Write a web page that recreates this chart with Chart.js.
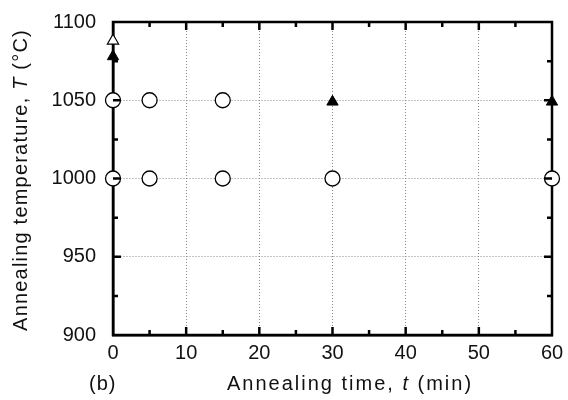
<!DOCTYPE html>
<html>
<head>
<meta charset="utf-8">
<script src="https://cdn.jsdelivr.net/npm/chart.js@4/dist/chart.umd.min.js"></script>
<style>
  body { margin: 0; background: #fff; }
  #wrap { width: 568px; height: 400px; }
</style>
</head>
<body>
<div id="wrap"><canvas id="chart"></canvas></div>
<script>
// data
var circleTimes = [0, 5, 15, 0, 5, 15, 30, 60];
var circleTemps = [1050, 1050, 1050, 1000, 1000, 1000, 1000, 1000];
var filledTriTimes = [0, 30, 60];
var filledTriTemps = [1078, 1049, 1049];
var openTriTimes = [0];
var openTriTemps = [1088];
var xTicks = [0, 10, 20, 30, 40, 50, 60];
var yTicks = [900, 950, 1000, 1050, 1100];

function pts(xs, ys) {
	return xs.map(function (x, i) { return { x: x, y: ys[i] }; });
}

var FONT = '"Liberation Sans", Arial, sans-serif';

// inward tick marks on all four sides
var innerTicks = {
	id: 'innerTicks',
	afterDatasetsDraw: function (chart) {
		var ctx = chart.ctx, a = chart.chartArea;
		var xs = chart.scales.x, ys = chart.scales.y;
		ctx.save();
		ctx.strokeStyle = '#000';
		ctx.lineWidth = 2.5;
		for (var t = 5; t < 60; t += 5) {
			var px = xs.getPixelForValue(t);
			var len = (t % 10 === 0) ? 8 : 5;
			ctx.beginPath();
			ctx.moveTo(px, a.bottom); ctx.lineTo(px, a.bottom - len);
			ctx.moveTo(px, a.top); ctx.lineTo(px, a.top + len);
			ctx.stroke();
		}
		for (var v = 925; v < 1100; v += 25) {
			var py = ys.getPixelForValue(v);
			var l2 = (v % 50 === 0) ? 8 : 5;
			ctx.beginPath();
			ctx.moveTo(a.left, py); ctx.lineTo(a.left + l2, py);
			ctx.moveTo(a.right, py); ctx.lineTo(a.right - l2, py);
			ctx.stroke();
		}
		ctx.restore();
	}
};

// axis titles with italic symbols
var axisTitles = {
	id: 'axisTitles',
	afterDraw: function (chart) {
		var ctx = chart.ctx;
		function drawParts(parts, cx, cy, sp) {
			ctx.letterSpacing = sp;
			var w = 0;
			parts.forEach(function (p) {
				ctx.font = (p[1] ? 'italic ' : '') + '20px ' + FONT;
				w += ctx.measureText(p[0]).width;
			});
			var x = cx - w / 2;
			parts.forEach(function (p) {
				ctx.font = (p[1] ? 'italic ' : '') + '20px ' + FONT;
				ctx.fillText(p[0], x, cy);
				x += ctx.measureText(p[0]).width;
			});
		}
		ctx.save();
		ctx.fillStyle = '#111';
		ctx.textBaseline = 'middle';
		ctx.textAlign = 'left';
		drawParts([['Annealing time, ', false], ['t', true], [' (min)', false]], 350, 384, '2px');
		ctx.letterSpacing = '1px';
		ctx.font = '20px ' + FONT;
		ctx.fillText('(b)', 89, 384);
		ctx.translate(21, 180);
		ctx.rotate(-Math.PI / 2);
		drawParts([['Annealing temperature, ', false], ['T', true], [' (\u00B0C)', false]], 0, 0, '1.2px');
		ctx.restore();
	}
};

new Chart(document.getElementById('chart'), {
	type: 'scatter',
	data: {
		datasets: [
			{
				label: 'open circles',
				data: pts(circleTimes, circleTemps),
				pointStyle: 'circle',
				pointRadius: 7.5,
				backgroundColor: '#fff',
				borderColor: '#000',
				borderWidth: 1.3,
				clip: false
			},
			{
				label: 'filled triangles',
				data: pts(filledTriTimes, filledTriTemps),
				pointStyle: 'triangle',
				pointRadius: 6.5,
				backgroundColor: '#000',
				borderColor: '#000',
				borderWidth: 1,
				clip: false
			},
			{
				label: 'open triangles',
				data: pts(openTriTimes, openTriTemps),
				pointStyle: 'triangle',
				pointRadius: 6.5,
				backgroundColor: '#fff',
				borderColor: '#000',
				borderWidth: 1.2,
				clip: false
			}
		]
	},
	options: {
		responsive: true,
		maintainAspectRatio: false,
		animation: false,
		layout: { padding: { top: 22, right: 16, left: 0, bottom: 0 } },
		plugins: { legend: { display: false }, tooltip: { enabled: false } },
		scales: {
			x: {
				type: 'linear',
				min: 0, max: 60,
				afterBuildTicks: function (s) { s.ticks = xTicks.map(function (v) { return { value: v }; }); },
				afterFit: function (s) { s.height = 65; s.paddingLeft = 0; s.paddingRight = 0; },
				grid: { color: '#888', lineWidth: 1, drawTicks: false, tickLength: 0 },
				border: { display: true, color: '#000', width: 2.5, dash: [1, 2] },
				ticks: {
					padding: 6,
					color: '#111',
					font: { family: FONT, size: 20 },
					callback: function (v) { return String(v); }
				}
			},
			y: {
				type: 'linear',
				min: 900, max: 1100,
				afterBuildTicks: function (s) { s.ticks = yTicks.map(function (v) { return { value: v }; }); },
				afterFit: function (s) { s.width = 113; s.paddingTop = 0; s.paddingBottom = 0; },
				grid: { color: '#888', lineWidth: 1, drawTicks: false, tickLength: 0 },
				border: { display: true, color: '#000', width: 2.5, dash: [1, 2] },
				ticks: {
					padding: 17,
					color: '#111',
					font: { family: FONT, size: 20 },
					callback: function (v) { return String(v); }
				}
			}
		}
	},
	plugins: [innerTicks, axisTitles, {
		id: 'frame',
		beforeDatasetsDraw: function (chart) {
			// full solid box over the grid
			var ctx = chart.ctx, a = chart.chartArea;
			ctx.save();
			ctx.strokeStyle = '#000';
			ctx.lineWidth = 2.5;
			ctx.strokeRect(a.left, a.top, a.right - a.left, a.bottom - a.top);
			ctx.restore();
		}
	}]
});
</script>
</body>
</html>
